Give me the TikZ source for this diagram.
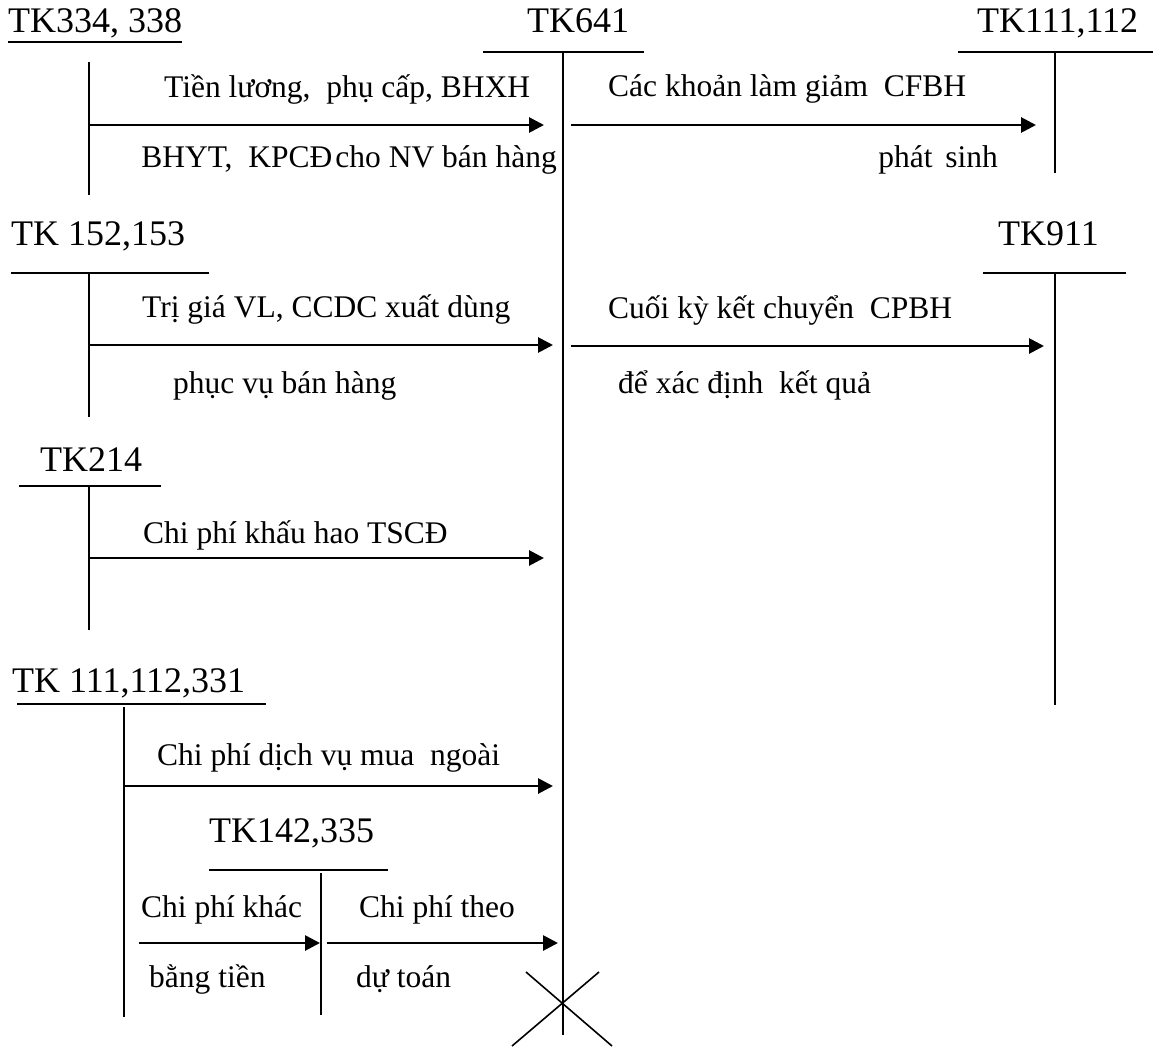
\documentclass[tikz,border=0pt]{standalone}
\usepackage{fontspec}
\setmainfont{Liberation Serif}
\usetikzlibrary{arrows.meta}
\begin{document}
\begin{tikzpicture}[x=1pt,y=-1pt,
  title/.style={anchor=base west,inner sep=0pt,font=\fontsize{36}{40}\selectfont},
  lbl/.style={anchor=base west,inner sep=0pt,font=\fontsize{31.5}{35}\selectfont},
  lblr/.style={lbl,anchor=base east},
  tline/.style={line width=2pt},
  flow/.style={line width=2.8pt,-{Triangle[length=15pt,width=15pt]}},
  cross/.style={line width=1.6pt}]
\useasboundingbox (0,0) rectangle (1153,1046);
\fill[white] (0,0) rectangle (1153,1046);

% account titles
\node[title] (t334) at (8,33) {TK334, 338};
\node[title] (t641) at (527,33) {TK641};
\node[title] (t111) at (977,33) {TK111,112};
\node[title] (t152) at (11,245) {TK 152,153};
\node[title] (t911) at (998,245) {TK911};
\node[title] (t214) at (40,471) {TK214};
\node[title] (t331) at (12,692) {TK 111,112,331};
\node[title] (t142) at (209,842) {TK142,335};

% T-account lines
\draw[tline] ([yshift=-9pt]t334.base west) -- ([yshift=-9pt]t334.base east);
\draw[tline] (89,62) -- (89,195);
\draw[tline] (483,52) -- (644,52);
\draw[tline] (563,52) -- (563,1035);
\draw[tline] (958,52) -- (1153,52);
\draw[tline] (1055,52) -- (1055,173);
\draw[tline] (11,273) -- (209,273);
\draw[tline] (89,273) -- (89,417);
\draw[tline] (983,273) -- (1126,273);
\draw[tline] (1055,273) -- (1055,705);
\draw[tline] (19,486) -- (161,486);
\draw[tline] (89,486) -- (89,630);
\draw[tline] (17,704) -- (266,704);
\draw[tline] (124,707) -- (124,1017);
\draw[tline] (209,870) -- (388,870);
\draw[tline] (320.5,873) -- (320.5,1015);

% connector end points
\coordinate (a1s) at (89,125);   \coordinate (a1e) at (544,125);
\coordinate (a2s) at (571,125);  \coordinate (a2e) at (1036,125);
\coordinate (a3s) at (89,345);   \coordinate (a3e) at (553,345);
\coordinate (a4s) at (571,346);  \coordinate (a4e) at (1044,346);
\coordinate (a5s) at (89,558);   \coordinate (a5e) at (544,558);
\coordinate (a6s) at (124,786);  \coordinate (a6e) at (553,786);
\coordinate (a7s) at (139,943);  \coordinate (a7e) at (320,943);
\coordinate (a8s) at (327,943);  \coordinate (a8e) at (558,943);

\draw[flow] (a1s) -- (a1e);
\draw[flow] (a2s) -- (a2e);
\draw[flow] (a3s) -- (a3e);
\draw[flow] (a4s) -- (a4e);
\draw[flow] (a5s) -- (a5e);
\draw[flow] (a6s) -- (a6e);
\draw[flow] (a7s) -- (a7e);
\draw[flow] (a8s) -- (a8e);

% labels
\node[lbl] (l1a) at (164,98) {Tiền lương,\ \ phụ cấp, BHXH};
\node[lblr] (l1b) at (557,167) {BHYT,\ \ KPCĐ\hspace{0.1em}cho NV bán hàng};
\node[lbl] (l2a) at (608,97) {Các khoản\ làm\ giảm\ \ CFBH};
\node[lblr] (l2b) at (998,167) {phát\hspace{0.4em}sinh};
\node[lbl] (l3a) at (142,317) {Trị giá VL, CCDC xuất\ dùng};
\node[lbl] (l3b) at (173,393) {phục vụ bán hàng};
\node[lbl] (l4a) at (608,318) {Cuối kỳ kết chuyển\ \ CPBH};
\node[lbl] (l4b) at (618,393) {để xác định\ \ kết quả};
\node[lbl] (l5) at (143,543) {Chi phí khấu hao TSCĐ};
\node[lbl] (l6) at (157,765) {Chi phí dịch vụ mua\ \ ngoài};
\node[lbl] (l7a) at (141,917) {Chi phí khác};
\node[lbl] (l7b) at (149,987) {bằng tiền};
\node[lbl] (l8a) at (359,917) {Chi phí theo};
\node[lbl] (l8b) at (356,987) {dự toán};

% closing cross
\coordinate (x1) at (526,972); \coordinate (x2) at (612,1046);
\coordinate (x3) at (599,972); \coordinate (x4) at (512,1046);
\draw[cross] (x1) -- (x2);
\draw[cross] (x3) -- (x4);
\end{tikzpicture}
\end{document}
